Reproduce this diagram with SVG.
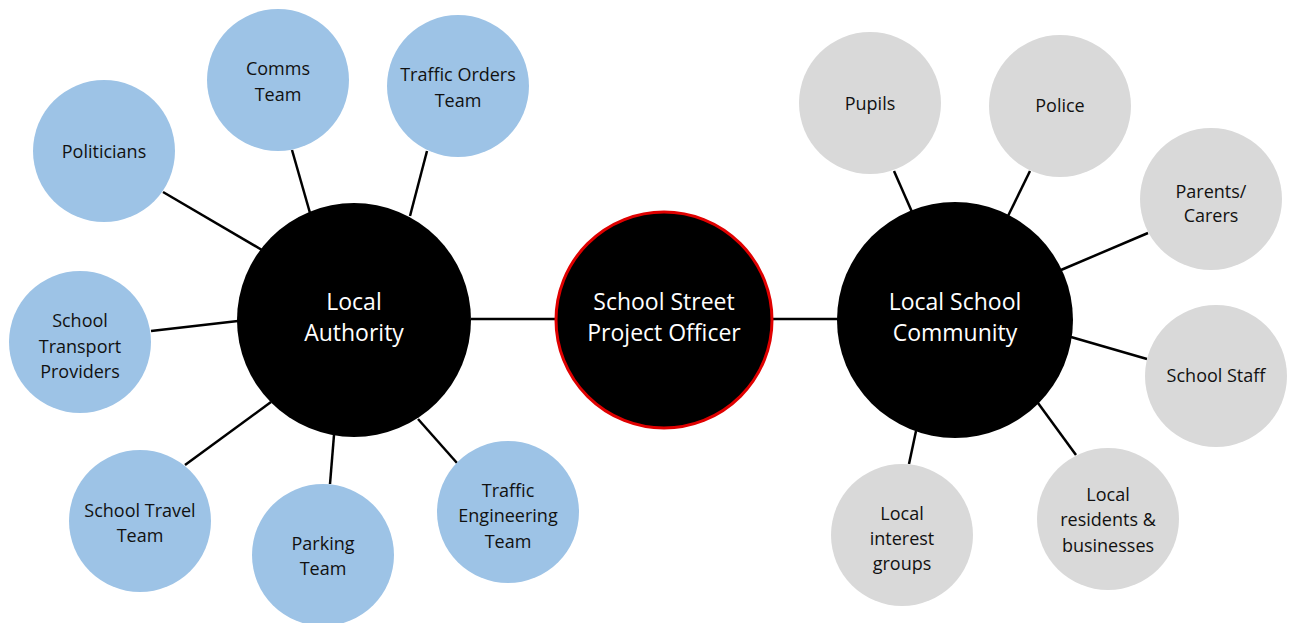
<svg xmlns="http://www.w3.org/2000/svg" width="1290" height="623" viewBox="0 0 1290 623">
<style>
.blue{fill:#9DC3E6}
.grey{fill:#D9D9D9}
.hub{fill:#000}
.sm{font-family:"Open Sans","Noto Sans",sans-serif;font-size:18px;fill:#111;text-anchor:middle}
.lg{font-family:"Open Sans","Noto Sans",sans-serif;font-size:23px;fill:#fff;text-anchor:middle}
.conn line{stroke:#000;stroke-width:2.5}
</style>
<rect width="1290" height="623" fill="#fff"/>
<g class="conn" id="connectors">
<line x1="471" y1="319" x2="556" y2="319"/>
<line x1="772" y1="319" x2="838" y2="319"/>
<line x1="292" y1="150" x2="310" y2="213"/>
<line x1="427" y1="151" x2="410" y2="216"/>
<line x1="163" y1="192" x2="262" y2="250"/>
<line x1="151" y1="331" x2="238" y2="321"/>
<line x1="185" y1="465" x2="271" y2="402"/>
<line x1="330" y1="484" x2="334" y2="435"/>
<line x1="457" y1="463" x2="418" y2="419"/>
<line x1="894" y1="171" x2="912" y2="212"/>
<line x1="1030" y1="171" x2="1008" y2="216"/>
<line x1="1148" y1="233" x2="1061" y2="270"/>
<line x1="1071" y1="337" x2="1147" y2="359"/>
<line x1="1038" y1="403" x2="1076" y2="455"/>
<line x1="916" y1="431" x2="909" y2="464"/>
</g>
<g id="officer"><circle cx="664" cy="320" r="108" fill="#000" stroke="#E00000" stroke-width="3"/>
<text class="lg" x="664" y="310">School Street</text><text class="lg" x="664" y="341">Project Officer</text></g>
<g id="local-authority"><circle class="hub" cx="354" cy="320" r="117"/>
<text class="lg" x="354" y="310">Local</text><text class="lg" x="354" y="341">Authority</text></g>
<g id="school-community"><circle class="hub" cx="955" cy="320" r="118"/>
<text class="lg" x="955" y="310">Local School</text><text class="lg" x="955" y="341">Community</text></g>
<g id="comms"><circle class="blue" cx="278" cy="80" r="71"/>
<text class="sm" x="278" y="75">Comms</text><text class="sm" x="278" y="101">Team</text></g>
<g id="traffic-orders"><circle class="blue" cx="458" cy="86" r="71"/>
<text class="sm" x="458" y="81">Traffic Orders</text><text class="sm" x="458" y="107">Team</text></g>
<g id="politicians"><circle class="blue" cx="104" cy="151" r="71"/>
<text class="sm" x="104" y="158">Politicians</text></g>
<g id="transport"><circle class="blue" cx="80" cy="342" r="71"/>
<text class="sm" x="80" y="327">School</text><text class="sm" x="80" y="353">Transport</text><text class="sm" x="80" y="378">Providers</text></g>
<g id="travel"><circle class="blue" cx="140" cy="521" r="71"/>
<text class="sm" x="140" y="517">School Travel</text><text class="sm" x="140" y="542">Team</text></g>
<g id="parking"><circle class="blue" cx="323" cy="555" r="71"/>
<text class="sm" x="323" y="550">Parking</text><text class="sm" x="323" y="575">Team</text></g>
<g id="engineering"><circle class="blue" cx="508" cy="512" r="71"/>
<text class="sm" x="508" y="497">Traffic</text><text class="sm" x="508" y="522">Engineering</text><text class="sm" x="508" y="548">Team</text></g>
<g id="pupils"><circle class="grey" cx="870" cy="103" r="71"/>
<text class="sm" x="870" y="110">Pupils</text></g>
<g id="police"><circle class="grey" cx="1060" cy="106" r="71"/>
<text class="sm" x="1060" y="112">Police</text></g>
<g id="parents"><circle class="grey" cx="1211" cy="199" r="71"/>
<text class="sm" x="1211" y="198">Parents/</text><text class="sm" x="1211" y="222">Carers</text></g>
<g id="staff"><circle class="grey" cx="1216" cy="376" r="71"/>
<text class="sm" x="1216" y="382">School Staff</text></g>
<g id="residents"><circle class="grey" cx="1108" cy="519" r="71"/>
<text class="sm" x="1108" y="501">Local</text><text class="sm" x="1108" y="526">residents &amp;</text><text class="sm" x="1108" y="552">businesses</text></g>
<g id="interest"><circle class="grey" cx="902" cy="535" r="71"/>
<text class="sm" x="902" y="520">Local</text><text class="sm" x="902" y="545">interest</text><text class="sm" x="902" y="570">groups</text></g>
</svg>
